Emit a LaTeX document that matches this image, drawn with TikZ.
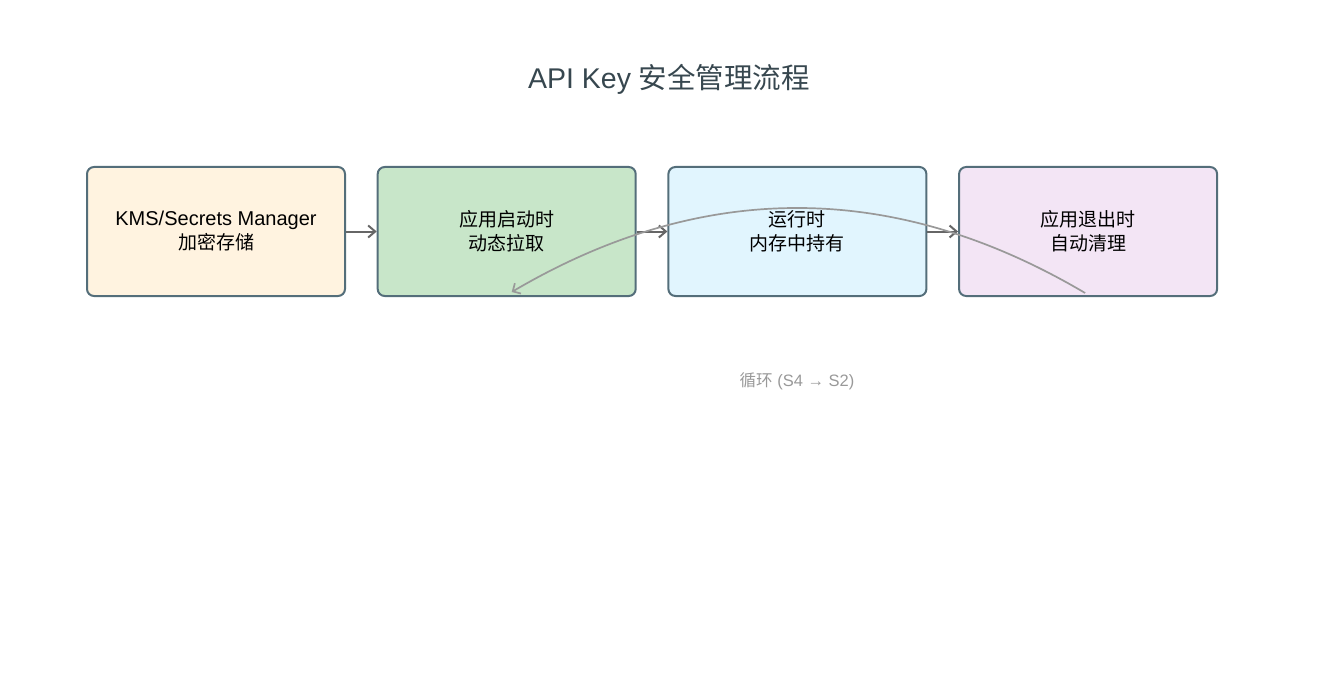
\documentclass[tikz,border=0pt]{standalone}
\usepackage{fontspec}
\setmainfont{Liberation Sans}
\newfontfamily\cjk{Noto Sans CJK SC}
\usetikzlibrary{positioning,arrows.meta}

\definecolor{boxline}{HTML}{546E7A}
\definecolor{titlecol}{HTML}{37474F}
\definecolor{fillkms}{HTML}{FFF3E0}
\definecolor{fillfetch}{HTML}{C8E6C9}
\definecolor{fillhold}{HTML}{E1F5FE}
\definecolor{fillclean}{HTML}{F3E5F5}

\tikzset{
  stepbox/.style={draw=boxline, line width=2pt, rounded corners=7pt,
    minimum width=258pt, minimum height=129pt, align=center,
    font=\fontsize{19}{24}\selectfont, inner sep=0pt},
  flow/.style={draw=black!60, line width=2pt, -{Straight Barb[length=7pt,width=12pt,line width=2pt]}},
  loopline/.style={draw=black!40, line width=1.7pt, -{Straight Barb[length=6pt,width=12pt,line width=1.7pt]}}
}

\begin{document}
\begin{tikzpicture}[x=1pt, y=-1pt]
\useasboundingbox (0,0) rectangle (1338,695);
\node[text=titlecol, font=\fontsize{28.5}{34}\selectfont] (title) at (669,79) {API Key {\cjk 安全管理流程}};
\node[stepbox, fill=fillkms] (s1) at (216,231.5) {{\fontsize{20}{24}\selectfont KMS/Secrets Manager}\\{\cjk 加密存储}};
\node[stepbox, fill=fillfetch, right=30.7pt of s1] (s2) {{\cjk 应用启动时}\\{\cjk 动态拉取}};
\node[stepbox, fill=fillhold, right=30.7pt of s2] (s3) {{\cjk 运行时}\\{\cjk 内存中持有}};
\node[stepbox, fill=fillclean, right=30.7pt of s3] (s4) {{\cjk 应用退出时}\\{\cjk 自动清理}};
\node[text=black!40, font=\fontsize{16.5}{20}\selectfont] (looplabel) at (797,381) {{\cjk 循环} (S4 → S2)};
% forward steps
\draw[flow] (s1) -- (s2);
\draw[flow] (s2) -- (s3);
\draw[flow] (s3) -- (s4);
% loop back
\coordinate (loopa) at (894,180);
\coordinate (loopb) at (702,180);
\draw[loopline] ([shift={(-3,-4)}]s4.south) .. controls (loopa) and (loopb) .. ([shift={(5,-5)}]s2.south);
\end{tikzpicture}
\end{document}
